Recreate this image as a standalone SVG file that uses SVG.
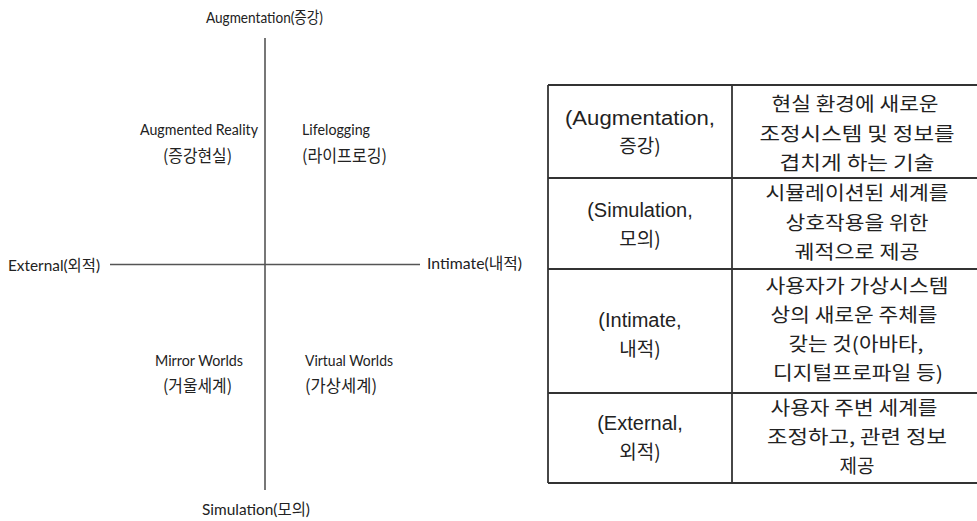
<svg xmlns="http://www.w3.org/2000/svg" width="977" height="521" viewBox="0 0 977 521">
<style>
  .ax { font-family: Lato, "Noto Sans CJK KR", sans-serif; font-size: 16px; fill: #222; }
  .q { font-family: Lato, "Noto Sans CJK KR", sans-serif; font-size: 14.5px; fill: #222; }
  .qk { font-family: "Noto Sans CJK KR", sans-serif; font-size: 17px; fill: #222; }
  .cell { font-family: "Liberation Sans", "Noto Sans CJK KR", sans-serif; font-size: 20px; fill: #222; text-anchor: middle; }
  .ck { font-family: "Noto Sans CJK KR", sans-serif; font-size: 19px; fill: #222; text-anchor: middle; }
  .axis { stroke: #555; stroke-width: 1.6; fill: none; }
  .grid { stroke: #333; stroke-width: 1.8; fill: none; }
</style>
<rect width="977" height="521" fill="#ffffff"/>

<g id="connectors">
  <line class="axis" x1="265" y1="38" x2="265" y2="490"/>
  <line class="axis" x1="110" y1="264.5" x2="420" y2="264.5"/>
</g>

<g id="axis-augmentation">
  <text class="ax" x="206" y="23" textLength="117" lengthAdjust="spacingAndGlyphs">Augmentation(증강)</text>
</g>
<g id="axis-external">
  <text class="ax" x="8" y="271" textLength="92" lengthAdjust="spacingAndGlyphs">External(외적)</text>
</g>
<g id="axis-intimate">
  <text class="ax" x="427" y="269" textLength="95" lengthAdjust="spacingAndGlyphs">Intimate(내적)</text>
</g>
<g id="axis-simulation">
  <text class="ax" x="202" y="515" textLength="108" lengthAdjust="spacingAndGlyphs">Simulation(모의)</text>
</g>

<g id="quad-augmented-reality">
  <text class="q" x="140" y="135" textLength="118" lengthAdjust="spacingAndGlyphs">Augmented Reality</text>
  <text class="qk" x="163" y="162" textLength="69" lengthAdjust="spacingAndGlyphs">(증강현실)</text>
</g>
<g id="quad-lifelogging">
  <text class="q" x="302" y="135" textLength="68" lengthAdjust="spacingAndGlyphs">Lifelogging</text>
  <text class="qk" x="302" y="162" textLength="85" lengthAdjust="spacingAndGlyphs">(라이프로깅)</text>
</g>
<g id="quad-mirror-worlds">
  <text class="q" x="155" y="366" textLength="88" lengthAdjust="spacingAndGlyphs">Mirror Worlds</text>
  <text class="qk" x="163" y="392" textLength="69" lengthAdjust="spacingAndGlyphs">(거울세계)</text>
</g>
<g id="quad-virtual-worlds">
  <text class="q" x="305" y="366" textLength="88" lengthAdjust="spacingAndGlyphs">Virtual Worlds</text>
  <text class="qk" x="305" y="392" textLength="72" lengthAdjust="spacingAndGlyphs">(가상세계)</text>
</g>

<g id="table-grid">
  <line class="grid" x1="548" y1="85" x2="977" y2="85"/>
  <line class="grid" x1="548" y1="178" x2="977" y2="178"/>
  <line class="grid" x1="548" y1="269" x2="977" y2="269"/>
  <line class="grid" x1="548" y1="393" x2="977" y2="393"/>
  <line class="grid" x1="548" y1="483" x2="977" y2="483"/>
  <line class="grid" x1="548" y1="85" x2="548" y2="483"/>
  <line class="grid" x1="732" y1="85" x2="732" y2="483"/>
</g>

<g id="row-augmentation">
  <text class="cell" x="640" y="125" textLength="150" lengthAdjust="spacingAndGlyphs">(Augmentation,</text>
  <text class="ck" x="640" y="153">증강)</text>
  <text class="ck" x="855" y="111" textLength="167" lengthAdjust="spacingAndGlyphs">현실 환경에 새로운</text>
  <text class="ck" x="857" y="141" textLength="195" lengthAdjust="spacingAndGlyphs">조정시스템 및 정보를</text>
  <text class="ck" x="857" y="170" textLength="155" lengthAdjust="spacingAndGlyphs">겹치게 하는 기술</text>
</g>

<g id="row-simulation">
  <text class="cell" x="640" y="217">(Simulation,</text>
  <text class="ck" x="640" y="246">모의)</text>
  <text class="ck" x="857" y="200" textLength="183" lengthAdjust="spacingAndGlyphs">시뮬레이션된 세계를</text>
  <text class="ck" x="857" y="230" textLength="143" lengthAdjust="spacingAndGlyphs">상호작용을 위한</text>
  <text class="ck" x="857" y="259" textLength="125" lengthAdjust="spacingAndGlyphs">궤적으로 제공</text>
</g>

<g id="row-intimate">
  <text class="cell" x="640" y="327">(Intimate,</text>
  <text class="ck" x="640" y="356">내적)</text>
  <text class="ck" x="857" y="293" textLength="183" lengthAdjust="spacingAndGlyphs">사용자가 가상시스템</text>
  <text class="ck" x="854" y="322" textLength="167" lengthAdjust="spacingAndGlyphs">상의 새로운 주체를</text>
  <text class="ck" x="856" y="351" textLength="135" lengthAdjust="spacingAndGlyphs">갖는 것(아바타,</text>
  <text class="ck" x="858" y="380" textLength="170" lengthAdjust="spacingAndGlyphs">디지털프로파일 등)</text>
</g>

<g id="row-external">
  <text class="cell" x="640" y="430">(External,</text>
  <text class="ck" x="640" y="459">외적)</text>
  <text class="ck" x="854" y="415" textLength="167" lengthAdjust="spacingAndGlyphs">사용자 주변 세계를</text>
  <text class="ck" x="857" y="444" textLength="180" lengthAdjust="spacingAndGlyphs">조정하고, 관련 정보</text>
  <text class="ck" x="857" y="473">제공</text>
</g>
</svg>
